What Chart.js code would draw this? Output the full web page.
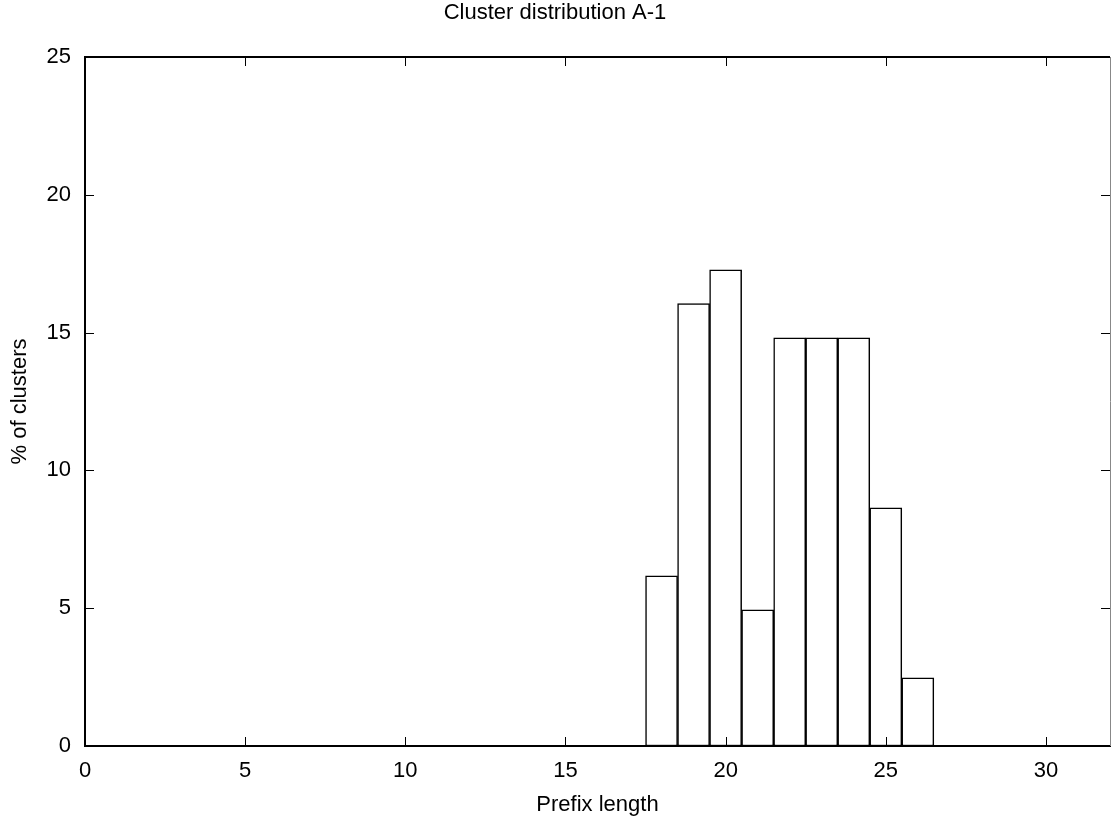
<!DOCTYPE html>
<html>
<head>
<meta charset="utf-8">
<title>Cluster distribution A-1</title>
<script src="https://cdn.jsdelivr.net/npm/chart.js@4/dist/chart.umd.min.js"></script>
<style>
  html, body { margin: 0; padding: 0; background: #fff; }
  #wrap { width: 1111px; height: 825px; }
</style>
</head>
<body>
<div id="wrap"><canvas id="clusterChart"></canvas></div>
<script>
// data
const prefixLengths = [18, 19, 20, 21, 22, 23, 24, 25, 26];
const clusterPct = [6.17, 16.05, 17.28, 4.94, 14.81, 14.81, 14.81, 8.64, 2.47];
const xRange = [0, 32];
const yRange = [0, 25];
const tickStep = 5;

const FONT = "'Liberation Sans', Arial, sans-serif";

// gnuplot-ish frame: top/right borders and inward ticks on all four sides
const framePlugin = {
    id: 'frame',
    afterDraw(chart) {
        const { ctx, chartArea: a, scales } = chart;
        ctx.save();
        ctx.strokeStyle = '#000';
        ctx.lineWidth = 2;
        ctx.beginPath();
        ctx.moveTo(a.left, a.top);
        ctx.lineTo(a.right, a.top);
        ctx.stroke();
        ctx.strokeStyle = '#888';
        ctx.lineWidth = 1;
        ctx.beginPath();
        ctx.moveTo(a.right + 0.5, a.top);
        ctx.lineTo(a.right + 0.5, a.bottom);
        ctx.stroke();

        const len = 9;
        ctx.strokeStyle = '#000';
        ctx.lineWidth = 1;
        ctx.beginPath();
        scales.x.ticks.forEach(t => {
            const px = Math.round(scales.x.getPixelForValue(t.value)) + 0.5;
            if (t.value === xRange[0] || t.value === xRange[1]) return;
            ctx.moveTo(px, a.bottom);
            ctx.lineTo(px, a.bottom - len);
            ctx.moveTo(px, a.top);
            ctx.lineTo(px, a.top + len);
        });
        scales.y.ticks.forEach(t => {
            const py = Math.round(scales.y.getPixelForValue(t.value)) + 0.5;
            if (t.value === yRange[0] || t.value === yRange[1]) return;
            ctx.moveTo(a.left, py);
            ctx.lineTo(a.left + len, py);
            ctx.moveTo(a.right, py);
            ctx.lineTo(a.right - len, py);
        });
        ctx.stroke();
        ctx.restore();
    }
};

const ctx = document.getElementById('clusterChart').getContext('2d');
new Chart(ctx, {
    type: 'bar',
    data: {
        datasets: [{
            label: '% of clusters',
            data: prefixLengths.map((p, i) => ({ x: p, y: clusterPct[i] })),
            backgroundColor: '#fff',
            borderColor: '#000',
            borderWidth: 1.5,
            borderSkipped: false,
            barPercentage: 1,
            categoryPercentage: 1
        }]
    },
    options: {
        responsive: true,
        maintainAspectRatio: false,
        animation: false,
        layout: { padding: { top: 0, right: 1, bottom: 0, left: 0 } },
        plugins: {
            legend: { display: false },
            tooltip: { enabled: false },
            title: {
                display: true,
                text: 'Cluster distribution A-1',
                color: '#000',
                font: { family: FONT, size: 22, weight: 'normal' },
                padding: { top: 0, bottom: 30.6 }
            }
        },
        scales: {
            x: {
                type: 'linear',
                offset: false,
                min: xRange[0],
                max: xRange[1],
                afterFit: s => { s.height = 79; },
                ticks: {
                    stepSize: tickStep,
                    includeBounds: false,
                    color: '#000',
                    padding: 12,
                    maxRotation: 0,
                    font: { family: FONT, size: 22 }
                },
                grid: { display: false, drawTicks: false, offset: false },
                border: { display: true, color: '#000', width: 2 },
                title: {
                    display: true,
                    text: 'Prefix length',
                    color: '#000',
                    font: { family: FONT, size: 22 },
                    padding: { top: 0, bottom: 7 }
                }
            },
            y: {
                min: yRange[0],
                max: yRange[1],
                afterFit: s => { s.width = 85; },
                ticks: {
                    stepSize: tickStep,
                    color: '#000',
                    padding: 14,
                    font: { family: FONT, size: 22 }
                },
                grid: { display: false, drawTicks: false },
                border: { display: true, color: '#000', width: 2 },
                title: {
                    display: true,
                    text: '% of clusters',
                    color: '#000',
                    font: { family: FONT, size: 22 },
                    padding: { top: 7, bottom: 0 }
                }
            }
        }
    },
    plugins: [framePlugin]
});
</script>
</body>
</html>
